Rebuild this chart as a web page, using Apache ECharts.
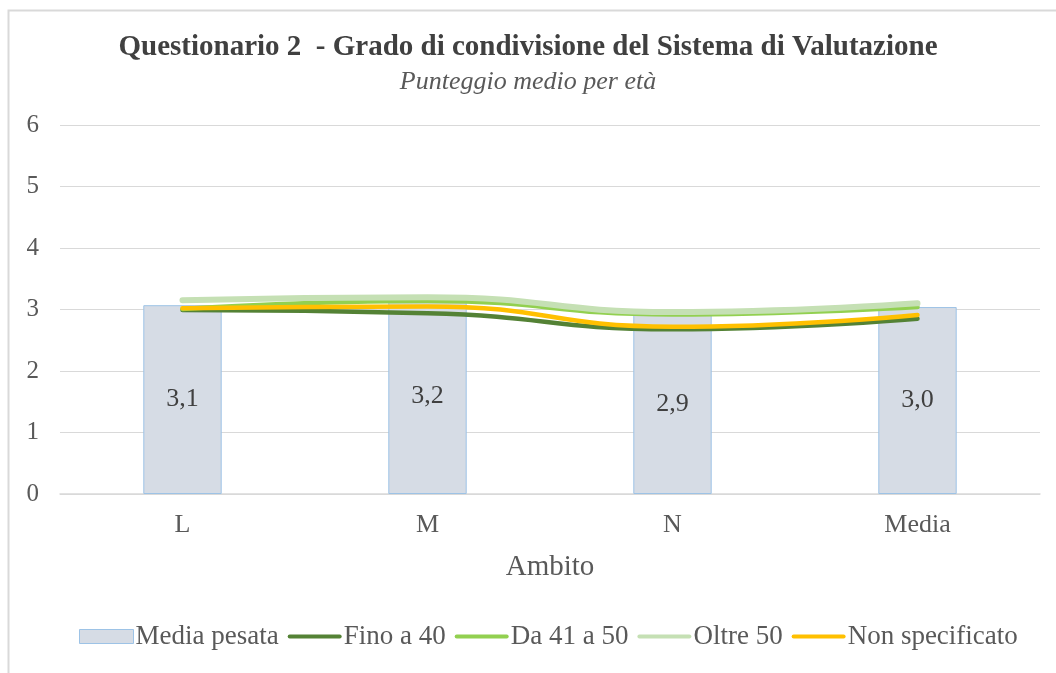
<!DOCTYPE html>
<html>
<head>
<meta charset="utf-8">
<script src="https://cdn.jsdelivr.net/npm/echarts@6/dist/echarts.min.js"></script>
<style>
  html, body { margin: 0; padding: 0; background: #fff; }
  #chart { width: 1056px; height: 673px; }
</style>
</head>
<body>
<div id="chart"></div>
<script>
// ambiti sull'asse x
const categories = ['L', 'M', 'N', 'Media'];
const yTicks = [0, 1, 2, 3, 4, 5, 6];

// punteggi medi
const mediaPesata = [3.07, 3.18, 2.92, 3.04];
const fino40 = [2.99, 2.94, 2.68, 2.85];
const da41a50 = [3.01, 3.14, 2.92, 3.04];
const oltre50 = [3.15, 3.2, 2.96, 3.1];
const nonSpecificato = [3.02, 3.05, 2.72, 2.91];

const font = 'Liberation Serif';
const lineIcon = 'path://M2,0h50a2,2 0 0 1 0,4h-50a2,2 0 0 1 0,-4z';
const chart = echarts.init(document.getElementById('chart'));

const lineSerie = (name, data, color, width) => ({
    name: name,
    type: 'line',
    data: data,
    smooth: 0.5,
    symbol: 'none',
    lineStyle: { color: color, width: width, cap: 'round' },
    itemStyle: { color: color }
});

const legendLine = (name, color) => ({
    name: name,
    icon: lineIcon,
    itemStyle: { color: color, borderWidth: 0 },
    lineStyle: { width: 0 }
});

const option = {
    backgroundColor: '#fff',
    animation: false,
    graphic: [{
        type: 'rect',
        left: 6, top: 8,
        shape: { width: 1200, height: 800 },
        style: { fill: 'none', stroke: '#d9d9d9', lineWidth: 2 },
        silent: true
    }],
    title: {
        text: 'Questionario 2  - Grado di condivisione del Sistema di Valutazione',
        subtext: 'Punteggio medio per età',
        left: 'center',
        top: 28,
        itemGap: 7,
        textStyle: { fontFamily: font, fontSize: 29, fontWeight: 'bold', color: '#404040' },
        subtextStyle: { fontFamily: font, fontSize: 26, fontStyle: 'italic', color: '#595959' }
    },
    legend: {
        bottom: 18,
        left: 74,
        itemWidth: 54,
        itemHeight: 14,
        itemGap: 9,
        symbolKeepAspect: true,
        textStyle: { fontFamily: font, fontSize: 27, color: '#595959', padding: [0, 0, 0, -3] },
        data: [
            { name: 'Media pesata', icon: 'rect', itemStyle: { color: '#d6dce5', borderColor: '#9dc3e6', borderWidth: 1 } },
            legendLine('Fino a 40', '#548235'),
            legendLine('Da 41 a 50', '#92d050'),
            legendLine('Oltre 50', '#c5e0b4'),
            legendLine('Non specificato', '#ffc000')
        ]
    },
    grid: { left: 60, right: 16, top: 125, bottom: 179 },
    xAxis: {
        type: 'category',
        data: categories,
        name: 'Ambito',
        nameLocation: 'middle',
        nameGap: 59,
        nameTextStyle: { fontFamily: font, fontSize: 29, color: '#595959' },
        axisLine: { lineStyle: { color: '#d9d9d9', width: 1.5 } },
        axisTick: { show: false },
        axisLabel: { fontFamily: font, fontSize: 26, color: '#595959', margin: 18 }
    },
    yAxis: {
        type: 'value',
        min: yTicks[0],
        max: yTicks[yTicks.length - 1],
        interval: 1,
        axisLine: { show: false },
        axisTick: { show: false },
        axisLabel: { fontFamily: font, fontSize: 25, color: '#595959', margin: 21 },
        splitLine: { lineStyle: { color: '#d9d9d9', width: 1 } }
    },
    series: [
        {
            name: 'Media pesata',
            type: 'bar',
            data: mediaPesata,
            barWidth: '32%',
            itemStyle: { color: '#d6dce5', borderColor: '#9dc3e6', borderWidth: 1 },
            label: {
                show: true,
                position: 'inside',
                fontFamily: font,
                fontSize: 26,
                color: '#404040',
                formatter: p => p.value.toFixed(1).replace('.', ',')
            }
        },
        lineSerie('Fino a 40', fino40, '#548235', 4.5),
        lineSerie('Da 41 a 50', da41a50, '#92d050', 4.5),
        lineSerie('Oltre 50', oltre50, '#c5e0b4', 6),
        lineSerie('Non specificato', nonSpecificato, '#ffc000', 4.5)
    ]
};

chart.setOption(option);
</script>
</body>
</html>
